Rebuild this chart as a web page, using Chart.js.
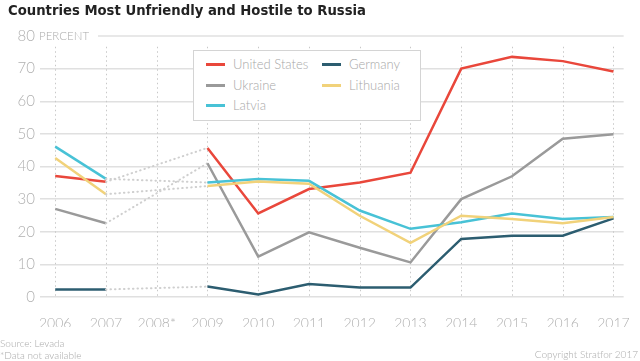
<!DOCTYPE html>
<html>
<head>
<meta charset="utf-8">
<script src="https://cdn.jsdelivr.net/npm/chart.js@4"></script>
<style>
  body { margin: 0; background: #fff; }
  #wrap { position: relative; width: 640px; height: 361px; overflow: hidden; font-family: Lato, "Open Sans", sans-serif; }
  #myChart { position: absolute; left: 0; top: 0; }
  #title { position: absolute; left: 8px; top: 1px; font-family: "Liberation Sans Narrow", "DejaVu Sans Condensed", sans-serif; font-weight: bold; font-size: 14.7px; color: #222; white-space: nowrap; }
  #legend { position: absolute; left: 193px; top: 50px; width: 226px; height: 69px; border: 1px solid #d4d4d4; background: #fff; }
  .item { position: absolute; font-size: 13px; font-weight: 300; color: #a8a8a8; white-space: nowrap; line-height: 16px; }
  .item span { display: inline-block; width: 19px; height: 3px; vertical-align: middle; margin-right: 8px; position: relative; top: -1px; }
  .foot { position: absolute; font-size: 10px; font-weight: 300; color: #aaa; white-space: nowrap; }
</style>
</head>
<body>
<div id="wrap">
  <canvas id="myChart" width="640" height="361"></canvas>
  <div id="title">Countries Most Unfriendly and Hostile to Russia</div>
  <div id="legend"></div>
  <div class="foot" style="left:0;top:337px">Source: Levada</div>
  <div class="foot" style="left:0;top:349px">*Data not available</div>
  <div class="foot" style="right:2px;top:348px">Copyright Stratfor 2017</div>
</div>
<script>
// data (null = not available)
const years = [2006, 2007, 2008, 2009, 2010, 2011, 2012, 2013, 2014, 2015, 2016, 2017];
const unitedStates = [37.1, 35.3, null, 45.7, 25.6, 33.1, 35.1, 38.1, 70, 73.6, 72.3, 69.1];
const ukraine = [27, 22.6, null, 41, 12.4, 19.8, 15.1, 10.6, 30, 37, 48.5, 49.9];
const latvia = [46.1, 36.2, null, 35.1, 36.2, 35.6, 26.5, 20.9, 22.9, 25.6, 23.9, 24.5];
const germany = [2.3, 2.3, null, 3.2, 0.8, 4.0, 2.9, 2.9, 17.8, 18.8, 18.8, 24.1];
const lithuania = [42.6, 31.5, null, 34.0, 35.4, 34.7, 24.9, 16.6, 24.9, 23.9, 22.6, 24.5];
const yTicks = [0, 10, 20, 30, 40, 50, 60, 70, 80];

const series = [
    {label: 'United States', data: unitedStates, color: '#e9473b', left: 12, top: 5},
    {label: 'Ukraine', data: ukraine, color: '#9a9a9a', left: 12, top: 26},
    {label: 'Latvia', data: latvia, color: '#48c2d6', left: 12, top: 46},
    {label: 'Germany', data: germany, color: '#2c5d70', left: 128, top: 5},
    {label: 'Lithuania', data: lithuania, color: '#f1d27a', left: 128, top: 26}
];

// legend
const legend = document.getElementById('legend');
series.forEach(s => {
    const d = document.createElement('div');
    d.className = 'item';
    d.style.left = s.left + 'px';
    d.style.top = s.top + 'px';
    d.innerHTML = '<span style="background:' + s.color + '"></span>' + s.label;
    legend.appendChild(d);
});

const gap = (ctx, value) => (ctx.p0.skip || ctx.p1.skip || ctx.p1DataIndex - ctx.p0DataIndex > 1) ? value : undefined;

// dotted year lines + "PERCENT" label
const extras = {
    id: 'extras',
    beforeDatasetsDraw(chart) {
        const c = chart.ctx, x = chart.scales.x, y = chart.scales.y;
        c.save();
        c.strokeStyle = '#c8c8c8';
        c.lineWidth = 1;
        c.setLineDash([1.5, 3]);
        years.forEach(v => {
            const px = Math.round(x.getPixelForValue(v)) + 0.5;
            c.beginPath();
            c.moveTo(px, y.getPixelForValue(76.7));
            c.lineTo(px, y.getPixelForValue(0));
            c.stroke();
        });
        c.setLineDash([]);
        c.font = '300 11.5px Lato';
        c.fillStyle = '#aaa';
        c.textBaseline = 'middle';
        const ty = y.getPixelForValue(80);
        c.fillText('PERCENT', 39, ty);
        const w = c.measureText('PERCENT').width;
        c.strokeStyle = '#e0e0e0';
        c.lineWidth = 1.5;
        c.beginPath();
        c.moveTo(39 + w + 9, ty);
        c.lineTo(chart.chartArea.right, ty);
        c.stroke();
        c.restore();
    }
};

const ctx = document.getElementById('myChart').getContext('2d');
const myChart = new Chart(ctx, {
    type: 'line',
    data: {
        datasets: series.map(s => ({
            label: s.label,
            data: s.data.map((v, i) => ({x: years[i], y: v})),
            borderColor: s.color,
            borderWidth: 2.5,
            pointRadius: 0,
            tension: 0,
            spanGaps: true,
            segment: {
                borderColor: c => gap(c, '#cfcfcf'),
                borderDash: c => gap(c, [0.5, 4]),
                borderCapStyle: c => gap(c, 'round'),
                borderWidth: c => gap(c, 2)
            }
        })).reverse()
    },
    options: {
        responsive: false,
        animation: false,
        layout: {padding: {top: 36, right: 16, bottom: 34, left: 0}},
        plugins: {legend: {display: false}, tooltip: {enabled: false}},
        scales: {
            x: {
                type: 'linear',
                min: 2005.7,
                max: 2017.2,
                afterBuildTicks: axis => { axis.ticks = years.map(v => ({value: v})); },
                afterFit: axis => { axis.height = 30; },
                grid: {display: false},
                border: {display: false},
                ticks: {
                    padding: 10,
                    color: '#b0b0b0',
                    font: {family: 'Lato', size: 14, weight: '300'},
                    callback: v => v === 2008 ? '2008*' : String(v)
                }
            },
            y: {
                min: 0,
                max: 80,
                afterBuildTicks: axis => { axis.ticks = yTicks.map(v => ({value: v})); },
                afterFit: axis => { axis.width = 40; },
                grid: {
                    drawTicks: false,
                    lineWidth: 1.5,
                    color: c => c.tick && c.tick.value === 80 ? 'rgba(0,0,0,0)' : '#e0e0e0'
                },
                border: {display: false},
                ticks: {
                    padding: 5,
                    color: '#b0b0b0',
                    font: {family: 'Lato', size: 15, weight: '300'}
                }
            }
        }
    },
    plugins: [extras]
});
</script>
</body>
</html>
